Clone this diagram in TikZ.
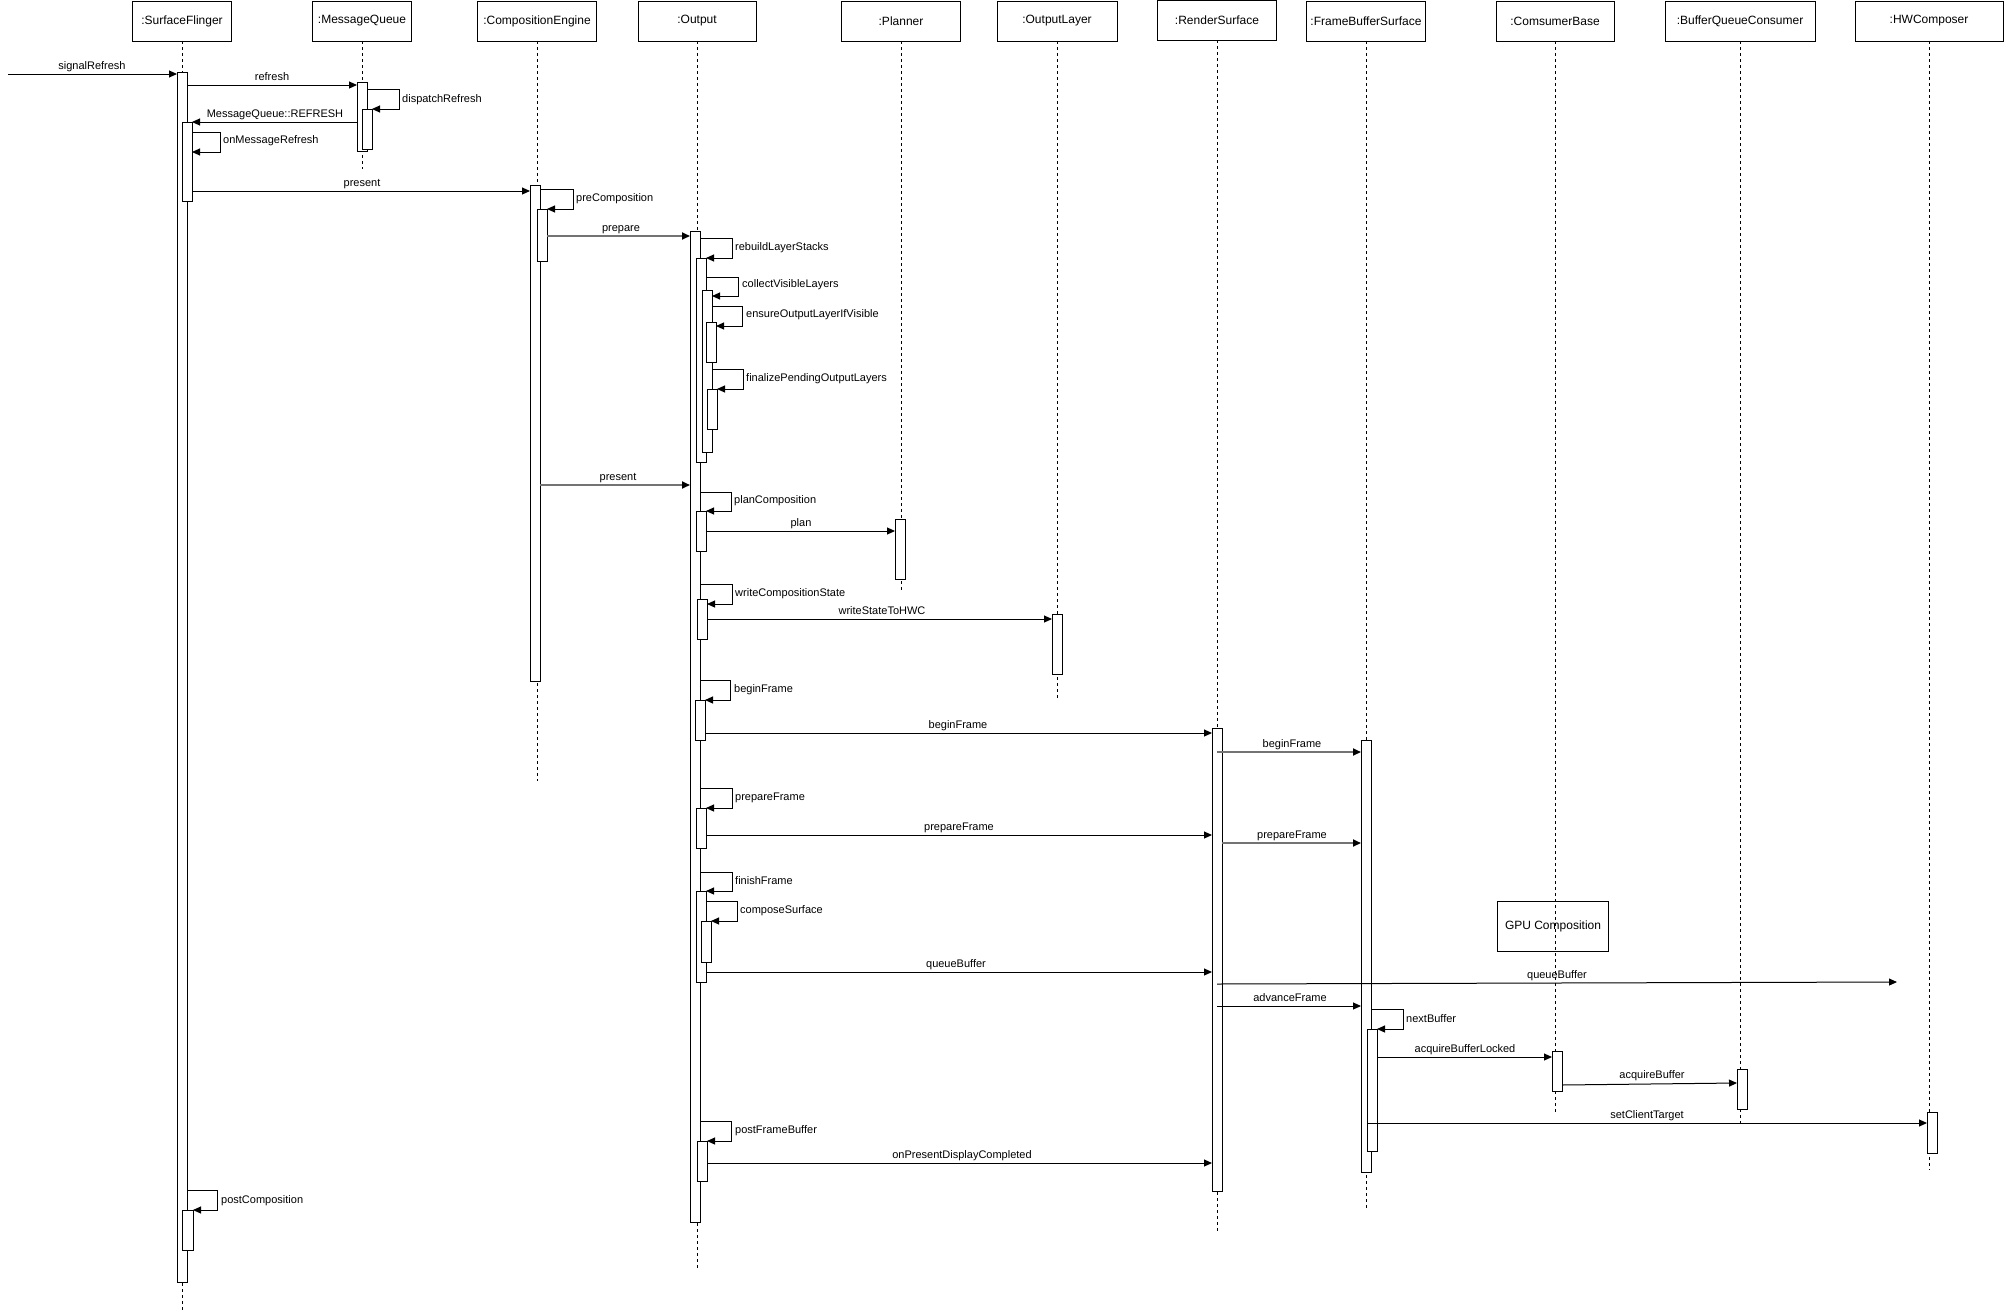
\documentclass[tikz,border=0pt]{standalone}
\usepackage{fontspec}
\setmainfont{Liberation Sans}
\usetikzlibrary{arrows.meta,fit}
\begin{document}
\begin{tikzpicture}[x=1pt,y=-1pt,
  head/.style={draw, line width=1pt, minimum height=40pt, inner sep=0pt, outer sep=0pt, font=\fontsize{12pt}{14pt}\selectfont},
  life/.style={line width=1pt, dash pattern=on 3pt off 3pt},
  act/.style={draw, fill=white, line width=1pt, inner sep=0pt, outer sep=0pt},
  msg/.style={line width=1pt, -{Triangle[length=8pt,width=7pt]}},
  gmsg/.style={draw=black!55, line width=1.8pt, -{Triangle[length=8pt,width=7pt,color=black]}},
  lbl/.style={font=\fontsize{11pt}{13pt}\selectfont, inner sep=0pt},
  mlbl/.style={lbl, anchor=base},
  slbl/.style={lbl, anchor=west, yshift=-2pt},
  note/.style={draw, line width=1pt, inner sep=0pt, minimum width=111pt, minimum height=50pt, font=\fontsize{12pt}{14pt}\selectfont}
]
\useasboundingbox (0,0) rectangle (2008,1312);
\fill[white] (0,0) rectangle (2008,1312);

% headers
\node[head, minimum width=99pt]  (sf)  at (182,21)  {:SurfaceFlinger};
\node[head, minimum width=99pt]  (mq)  at (362,21)  {:MessageQueue};
\node[head, minimum width=119pt] (ce)  at (537,21)  {:CompositionEngine};
\node[head, minimum width=118pt] (out) at (697,21)  {:Output};
\node[head, minimum width=119pt] (pl)  at (901,21)  {:Planner};
\node[head, minimum width=120pt] (ol)  at (1057,21) {:OutputLayer};
\node[head, minimum width=119pt] (rs)  at (1217,20) {:RenderSurface};
\node[head, minimum width=119pt] (fb)  at (1366,21) {:FrameBufferSurface};
\node[head, minimum width=118pt] (cb)  at (1555,21) {:ComsumerBase};
\node[head, minimum width=150pt] (bq)  at (1740,21) {:BufferQueueConsumer};
\node[head, minimum width=148pt] (hw)  at (1929,21) {:HWComposer};

% lifelines
\draw[life] (sf.south)  -- (sf.south |- 0,1311);
\draw[life] (mq.south)  -- (mq.south |- 0,169);
\draw[life] (ce.south)  -- (ce.south |- 0,781);
\draw[life] (out.south) -- (out.south |- 0,1268);
\draw[life] (pl.south)  -- (pl.south |- 0,590);
\draw[life] (ol.south)  -- (ol.south |- 0,698);
\draw[life] (rs.south)  -- (rs.south |- 0,1232);
\draw[life] (fb.south)  -- (fb.south |- 0,1208);
\draw[life] (cb.south)  -- (cb.south |- 0,1112);
\draw[life] (bq.south)  -- (bq.south |- 0,1123);
\draw[life] (hw.south)  -- (hw.south |- 0,1170);

% note
\node[note] (gpu) at (1553,926) {GPU Composition};

% activations
\node[act, fit={(177,72) (187,1282)}] (sfA1) {};
\node[act, fit={(182,122) (192,201)}] (sfA2) {};
\node[act, fit={(182,1210) (193,1250)}] (sfA3) {};
\node[act, fit={(357,82) (367,151)}] (mqA1) {};
\node[act, fit={(362,109) (372,149)}] (mqA2) {};
\node[act, fit={(530,185) (540,681)}] (ceA1) {};
\node[act, fit={(537,209) (547,261)}] (ceA2) {};
\node[act, fit={(690,231) (700,1222)}] (oA1) {};
\node[act, fit={(696,258) (706,462)}] (oA2) {};
\node[act, fit={(702,290) (712,452)}] (oA3) {};
\node[act, fit={(706,322) (716,362)}] (oA4) {};
\node[act, fit={(707,389) (717,429)}] (oA5) {};
\node[act, fit={(696,511) (706,551)}] (oA6) {};
\node[act, fit={(697,599) (707,639)}] (oA7) {};
\node[act, fit={(695,700) (705,740)}] (oA8) {};
\node[act, fit={(696,808) (706,848)}] (oA9) {};
\node[act, fit={(696,891) (706,982)}] (oA10) {};
\node[act, fit={(701,921) (711,962)}] (oA11) {};
\node[act, fit={(697,1141) (707,1181)}] (oA12) {};
\node[act, fit={(895,519) (905,579)}] (plA1) {};
\node[act, fit={(1052,614) (1062,674)}] (olA1) {};
\node[act, fit={(1212,728) (1222,1191)}] (rsA1) {};
\node[act, fit={(1361,740) (1371,1172)}] (fbA1) {};
\node[act, fit={(1367,1029) (1377,1151)}] (fbA2) {};
\node[act, fit={(1552,1051) (1562,1091)}] (cbA1) {};
\node[act, fit={(1737,1069) (1747,1109)}] (bqA1) {};
\node[act, fit={(1927,1112) (1937,1153)}] (hwA1) {};

% messages
\coordinate (srcSig) at (8,74);
\draw[msg] (srcSig) -- (sfA1.west |- srcSig);
\node[mlbl] (l1) at (92,69) {signalRefresh};

\draw[msg] (sfA1.east |- 0,85) -- (mqA1.west |- 0,85);
\node[mlbl] (l2) at (272,80) {refresh};

\draw[msg] (mqA1.east |- 0,89) -- (399,89) -- (399,109) -- (mqA2.east |- 0,109);
\node[slbl] (l3) at (402,98) {dispatchRefresh};

\draw[msg] (mqA1.west |- 0,122) -- (sfA2.east |- 0,122);
\node[mlbl] (l4) at (275,117) {MessageQueue::REFRESH};

\draw[msg] (sfA2.east |- 0,132) -- (220,132) -- (220,152) -- (sfA2.east |- 0,152);
\node[slbl] (l5) at (223,139) {onMessageRefresh};

\draw[msg] (sfA2.east |- 0,191) -- (ceA1.west |- 0,191);
\node[mlbl] (l6) at (362,186) {present};

\draw[msg] (ceA1.east |- 0,189) -- (573,189) -- (573,209) -- (ceA2.east |- 0,209);
\node[slbl] (l7) at (576,197) {preComposition};

\draw[gmsg] (ceA2.east |- 0,236) -- (oA1.west |- 0,236);
\node[mlbl] (l8) at (621,231) {prepare};

\draw[msg] (oA1.east |- 0,238) -- (732,238) -- (732,258) -- (oA2.east |- 0,258);
\node[slbl] (l9) at (735,246) {rebuildLayerStacks};

\draw[msg] (oA2.east |- 0,277) -- (738,277) -- (738,296) -- (oA3.east |- 0,296);
\node[slbl] (l10) at (742,283) {collectVisibleLayers};

\draw[msg] (oA3.east |- 0,306) -- (742,306) -- (742,326) -- (oA4.east |- 0,326);
\node[slbl] (l11) at (746,313) {ensureOutputLayerIfVisible};

\draw[msg] (oA3.east |- 0,369) -- (743,369) -- (743,389) -- (oA5.east |- 0,389);
\node[slbl] (l12) at (746,377) {finalizePendingOutputLayers};

\draw[gmsg] (ceA1.east |- 0,485) -- (oA1.west |- 0,485);
\node[mlbl] (l13) at (618,480) {present};

\draw[msg] (oA1.east |- 0,492) -- (731,492) -- (731,511) -- (oA6.east |- 0,511);
\node[slbl] (l14) at (734,499) {planComposition};

\draw[msg] (oA6.east |- 0,531) -- (plA1.west |- 0,531);
\node[mlbl] (l15) at (801,526) {plan};

\draw[msg] (oA1.east |- 0,584) -- (732,584) -- (732,604) -- (oA7.east |- 0,604);
\node[slbl] (l16) at (735,592) {writeCompositionState};

\draw[msg] (oA7.east |- 0,619) -- (olA1.west |- 0,619);
\node[mlbl] (l17) at (882,614) {writeStateToHWC};

\draw[msg] (oA1.east |- 0,680) -- (730,680) -- (730,700) -- (oA8.east |- 0,700);
\node[slbl] (l18) at (734,688) {beginFrame};

\draw[msg] (oA8.east |- 0,733) -- (rsA1.west |- 0,733);
\node[mlbl] (l19) at (958,728) {beginFrame};

\draw[gmsg] (rsA1.center |- 0,752) -- (fbA1.west |- 0,752);
\node[mlbl] (l20) at (1292,747) {beginFrame};

\draw[msg] (oA1.east |- 0,788) -- (732,788) -- (732,808) -- (oA9.east |- 0,808);
\node[slbl] (l21) at (735,796) {prepareFrame};

\draw[msg] (oA9.east |- 0,835) -- (rsA1.west |- 0,835);
\node[mlbl] (l22) at (959,830) {prepareFrame};

\draw[gmsg] (rsA1.east |- 0,843) -- (fbA1.west |- 0,843);
\node[mlbl] (l23) at (1292,838) {prepareFrame};

\draw[msg] (oA1.east |- 0,872) -- (732,872) -- (732,891) -- (oA10.east |- 0,891);
\node[slbl] (l24) at (735,879) {finishFrame};

\draw[msg] (oA10.east |- 0,901) -- (737,901) -- (737,921) -- (oA11.east |- 0,921);
\node[slbl] (l25) at (740,909) {composeSurface};

\draw[msg] (oA10.east |- 0,972) -- (rsA1.west |- 0,972);
\node[mlbl] (l26) at (956,967) {queueBuffer};

\coordinate (qbEnd) at (1897,982);
\draw[msg] (rsA1.center |- 0,984) -- (qbEnd);
\node[mlbl] (l27) at (1557,978) {queueBuffer};

\draw[msg] (rsA1.center |- 0,1006) -- (fbA1.west |- 0,1006);
\node[mlbl] (l28) at (1290,1001) {advanceFrame};

\draw[msg] (fbA1.east |- 0,1009) -- (1403,1009) -- (1403,1029) -- (fbA2.east |- 0,1029);
\node[slbl] (l29) at (1406,1017) {nextBuffer};

\draw[msg] (fbA2.east |- 0,1057) -- (cbA1.west |- 0,1057);
\node[mlbl] (l30) at (1465,1052) {acquireBufferLocked};

\draw[msg] (cbA1.east |- 0,1085) -- (bqA1.west |- 0,1083);
\node[mlbl] (l31) at (1652,1078) {acquireBuffer};

\draw[msg] (fbA2.west |- 0,1123) -- (hwA1.west |- 0,1123);
\node[mlbl] (l32) at (1647,1118) {setClientTarget};

\draw[msg] (oA1.east |- 0,1121) -- (731,1121) -- (731,1141) -- (oA12.east |- 0,1141);
\node[slbl] (l33) at (735,1129) {postFrameBuffer};

\draw[msg] (oA12.east |- 0,1163) -- (rsA1.west |- 0,1163);
\node[mlbl] (l34) at (962,1158) {onPresentDisplayCompleted};

\draw[msg] (sfA1.east |- 0,1190) -- (217,1190) -- (217,1210) -- (sfA3.east |- 0,1210);
\node[slbl] (l35) at (221,1199) {postComposition};

\end{tikzpicture}
\end{document}
